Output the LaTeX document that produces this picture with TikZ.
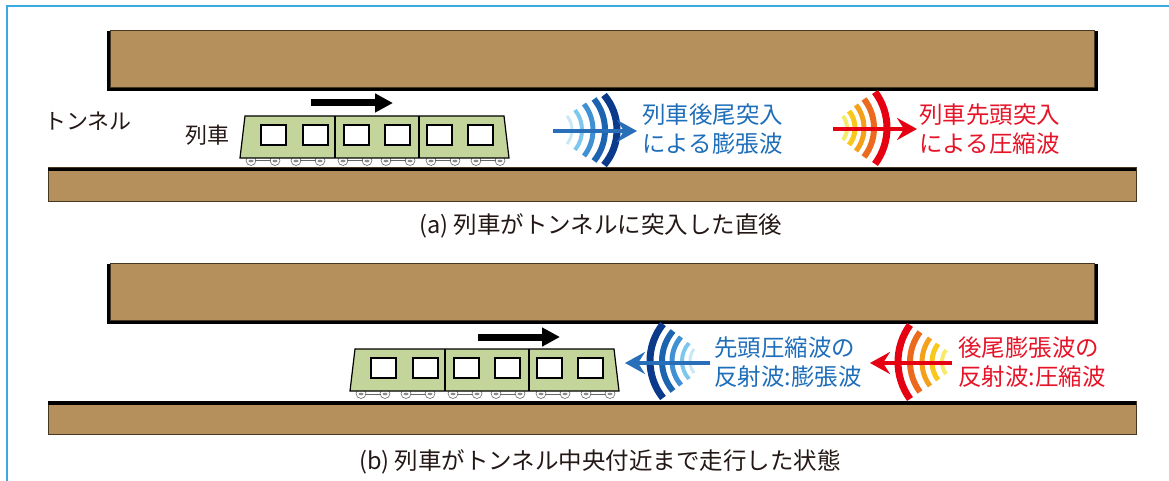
\documentclass[tikz,border=0pt]{standalone}
\usepackage{fontspec}
\newfontfamily\jp{Noto Sans CJK JP}
\usetikzlibrary{arrows.meta}

\definecolor{wall}{RGB}{181,144,92}
\definecolor{walledge}{RGB}{70,55,35}
\definecolor{carbody}{RGB}{195,213,155}
\definecolor{frameblue}{RGB}{60,168,228}
\definecolor{txtblue}{RGB}{30,110,185}
\definecolor{txtred}{RGB}{230,20,40}
\definecolor{txtdark}{RGB}{35,24,21}
% expansion-wave palette (light to dark)
\definecolor{bA}{RGB}{200,232,246}
\definecolor{bB}{RGB}{125,198,238}
\definecolor{bC}{RGB}{64,145,212}
\definecolor{bD}{RGB}{28,100,176}
\definecolor{bE}{RGB}{12,58,138}
\definecolor{barrow}{RGB}{40,110,185}
% compression-wave palette (light to dark)
\definecolor{rA}{RGB}{245,234,106}
\definecolor{rB}{RGB}{248,200,29}
\definecolor{rC}{RGB}{243,160,26}
\definecolor{rD}{RGB}{235,106,30}
\definecolor{rE}{RGB}{229,0,18}
\definecolor{rarrow}{RGB}{229,0,18}

\tikzset{
  label/.style={inner sep=0pt, anchor=west, text=txtdark, font=\jp\fontsize{22}{26}\selectfont},
  wavetext/.style={inner sep=0pt, anchor=west, align=left, font=\jp\fontsize{23.5}{29}\selectfont},
  caption/.style={inner sep=0pt, text=txtdark, font=\jp\fontsize{23.5}{28}\selectfont},
  runarrow/.style={line width=7pt, -{Triangle[length=18pt,width=18pt]}},
  wavearrow/.style={line width=4.5pt, -{Stealth[length=20pt,width=22pt,inset=7pt]}},
  pics/upperwall/.style={code={
    \fill[black] (-3,1) rectangle (988,61);
    \filldraw[fill=wall, draw=walledge, line width=0.8pt] (0,0) rectangle (984,57);
  }},
  pics/lowerwall/.style={code={
    \filldraw[fill=wall, draw=walledge, line width=1pt] (0,0) rectangle (1088,33);
    \fill[black] (0,0) rectangle (1088,3.5);
  }},
  pics/train/.style={code={
    % bogies and wheels
    \foreach \bx in {18,63,110,153,198,243}{
      \draw[black!60, line width=0.6pt, fill=white] (\bx-12,44.5) circle (5);
      \draw[black!60, line width=0.6pt, fill=white] (\bx+12,44.5) circle (5);
      \draw[black!60, line width=1pt] (\bx-8,45) -- (\bx+8,45);
      \fill[black!45] (\bx-12,45) ellipse (2.5 and 1.3) (\bx+12,45) ellipse (2.5 and 1.3);
    }
    % car body
    \filldraw[fill=carbody, draw=black, line width=1.2pt]
      (0,0) -- (259,0) -- (264,42) -- (-5,42) -- cycle;
    \draw[black, line width=1.2pt] (90,0) -- (90,42) (174,0) -- (174,42);
    \foreach \wx in {16,58,99,140,182,223}{
      \filldraw[fill=white, draw=black, line width=1.2pt] (\wx,9) rectangle (\wx+25,29);
    }
  }}
}

% one circular arc of a wave fan: mid x, half span, sag, width, colour
\newcommand\fanarc[5]{%
  \pgfmathsetmacro\fanR{((#2)*(#2)+(#3)*(#3))/(2*(#3))}%
  \pgfmathsetmacro\fanT{asin((#2)/\fanR)}%
  \draw[line width=#4pt, color=#5] (#1-#3,-#2)
    arc[start angle=-\fanT, end angle=\fanT, radius=\fanR];}

\begin{document}
\begin{tikzpicture}[x=1pt, y=-1pt]
\useasboundingbox (0,0) rectangle (1169,481);

% panel frame
\draw[frameblue, line width=1.5pt] (7,481) -- (7,6) -- (1169,6);

%% ---------------- (a) just after the train enters ----------------
\pic at (110,30) {upperwall};
\pic at (48,168) {lowerwall};
\pic at (245,116) {train};

\coordinate (runAtail) at (311,103);
\coordinate (runAtip) at (393,103);
\draw[runarrow] (runAtail) -- (runAtip);

\node[label] (tunnelA) at (44,121) {トンネル};
\node[label] (trainA) at (185,135) {列車};

% expansion wave from the train tail
\begin{scope}[shift={(617,130)}]
  \fanarc{-45}{14}{5}{3}{bA}
  \fanarc{-35}{20}{7}{4}{bB}
  \fanarc{-24}{26}{9}{5}{bC}
  \fanarc{-12}{31}{11}{6}{bD}
  \fanarc{0}{35}{13}{7}{bE}
\end{scope}
\coordinate (expAtail) at (553,131);
\coordinate (expAtip) at (637,131);
\draw[wavearrow, barrow] (expAtail) -- (expAtip);
\node[wavetext, text=txtblue] (expAtext) at (642,129) {列車後尾突入\\による膨張波};

% compression wave from the train nose
\begin{scope}[shift={(887,128)}]
  \fanarc{-40}{12}{4}{4}{rA}
  \fanarc{-32}{17}{6}{5}{rB}
  \fanarc{-23}{23}{8}{5}{rC}
  \fanarc{-13}{29}{10}{6}{rD}
  \fanarc{0}{36}{12}{7}{rE}
\end{scope}
\coordinate (cmpAtail) at (833,129);
\coordinate (cmpAtip) at (917,129);
\draw[wavearrow, rarrow] (cmpAtail) -- (cmpAtip);
\node[wavetext, text=txtred] (cmpAtext) at (919,129) {列車先頭突入\\による圧縮波};

\node[caption] (capA) at (601,226) {(a) 列車がトンネルに突入した直後};

%% ---------------- (b) train near the middle of the tunnel ----------------
\pic at (110,263) {upperwall};
\pic at (48,401) {lowerwall};
\pic at (355,349) {train};

\coordinate (runBtail) at (478,337);
\coordinate (runBtip) at (560,337);
\draw[runarrow] (runBtail) -- (runBtip);

% reflected nose wave: expansion, travelling back
\begin{scope}[shift={(650,361)}, xscale=-1]
  \fanarc{-40}{12}{4}{3}{bA}
  \fanarc{-32}{18}{7}{4}{bB}
  \fanarc{-22}{24}{9}{5}{bC}
  \fanarc{-12}{30}{11}{6}{bD}
  \fanarc{0}{37}{13}{7}{bE}
\end{scope}
\coordinate (expBtail) at (710,363);
\coordinate (expBtip) at (625,363);
\draw[wavearrow, barrow] (expBtail) -- (expBtip);
\node[wavetext, text=txtblue] (expBtext) at (714,362) {先頭圧縮波の\\反射波:膨張波};

% reflected tail wave: compression, travelling back
\begin{scope}[shift={(898,362)}, xscale=-1]
  \fanarc{-44}{12}{4}{4}{rA}
  \fanarc{-34}{18}{6}{5}{rB}
  \fanarc{-24}{24}{8}{5}{rC}
  \fanarc{-12}{30}{10}{6}{rD}
  \fanarc{0}{37}{12}{7}{rE}
\end{scope}
\coordinate (cmpBtail) at (952,363);
\coordinate (cmpBtip) at (870,363);
\draw[wavearrow, rarrow] (cmpBtail) -- (cmpBtip);
\node[wavetext, text=txtred] (cmpBtext) at (958,362) {後尾膨張波の\\反射波:圧縮波};

\node[caption] (capB) at (600,462) {(b) 列車がトンネル中央付近まで走行した状態};

\end{tikzpicture}
\end{document}
